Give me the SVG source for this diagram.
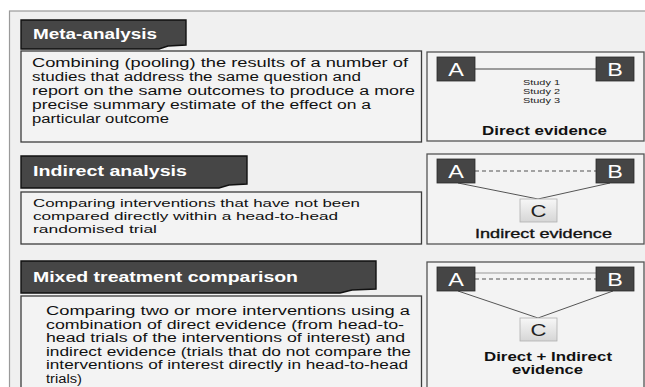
<svg xmlns="http://www.w3.org/2000/svg" width="645" height="387" viewBox="0 0 645 387">
<style>
.frame{fill:#f0f0f0;stroke:#9a9a9a;stroke-width:1.2}
.label{fill:#464646;stroke:#111;stroke-width:1.4}
.ltxt{font-family:"Liberation Sans",Arial,sans-serif;font-weight:bold;font-size:15px;fill:#ffffff}
.tbox{fill:#f3f3f3;stroke:#3c3c3c;stroke-width:1.3}
.btxt{font-family:"Liberation Sans",Arial,sans-serif;fill:#111}
.rbox{fill:#f3f3f3;stroke:#555;stroke-width:1.3}
.node{fill:#454545;stroke:#2a2a2a;stroke-width:0.8}
.ntxt{font-family:"Liberation Sans",Arial,sans-serif;font-size:18px;fill:#fff;text-anchor:middle}
.cnode{fill:url(#cg);stroke:#b0b0b0;stroke-width:0.8}
.ctxt{font-family:"Liberation Sans",Arial,sans-serif;font-size:17px;fill:#222;text-anchor:middle}
.cap{font-family:"Liberation Sans",Arial,sans-serif;font-weight:bold;font-size:12.5px;fill:#111}
.cap2{font-family:"Liberation Sans",Arial,sans-serif;font-size:13.5px;fill:#111;stroke:#111;stroke-width:0.35}
.study{font-family:"Liberation Sans",Arial,sans-serif;font-size:8px;fill:#222}
.solid{stroke:#444;stroke-width:1.1;fill:none}
.dash{stroke:#888;stroke-width:1.3;stroke-dasharray:4 3;fill:none}
.diag{stroke:#555;stroke-width:1;fill:none}
</style>
<defs>
<linearGradient id="cg" x1="0" y1="0" x2="0" y2="1">
<stop offset="0" stop-color="#f7f7f7"/>
<stop offset="1" stop-color="#d6d6d6"/>
</linearGradient>
</defs>
<rect x="0" y="0" width="645" height="387" fill="#ffffff"/>
<rect class="frame" x="9.5" y="11" width="645" height="390"/>

<g id="meta-label">
<path class="label" d="M21,20 H186 V45 L168,46 L159,49 H21 Z"/>
<text class="ltxt" x="33" y="39" textLength="124" lengthAdjust="spacingAndGlyphs">Meta-analysis</text>
</g>
<g id="meta-text">
<rect class="tbox" x="21" y="51" width="400.5" height="91"/>
<g class="btxt" font-size="12.5">
<text x="32" y="66.5" textLength="376" lengthAdjust="spacingAndGlyphs">Combining (pooling) the results of a number of</text>
<text x="32" y="80.5" textLength="329" lengthAdjust="spacingAndGlyphs">studies that address the same question and</text>
<text x="32" y="94.5" textLength="383" lengthAdjust="spacingAndGlyphs">report on the same outcomes to produce a more</text>
<text x="32" y="108.5" textLength="339" lengthAdjust="spacingAndGlyphs">precise summary estimate of the effect on a</text>
<text x="32" y="122.5" textLength="137" lengthAdjust="spacingAndGlyphs">particular outcome</text>
</g>
</g>
<g id="direct-box">
<rect class="rbox" x="427" y="52" width="217" height="89"/>
<text class="study" x="523" y="85" textLength="37" lengthAdjust="spacingAndGlyphs">Study 1</text>
<text class="study" x="523" y="94" textLength="37" lengthAdjust="spacingAndGlyphs">Study 2</text>
<text class="study" x="523" y="103" textLength="37" lengthAdjust="spacingAndGlyphs">Study 3</text>
<text class="cap" x="482" y="134.5" textLength="125" lengthAdjust="spacingAndGlyphs">Direct evidence</text>
</g>

<g id="indirect-label">
<path class="label" d="M21,156 H247 V184 L229,185 L219,188 H21 Z"/>
<text class="ltxt" x="33" y="176" textLength="154" lengthAdjust="spacingAndGlyphs">Indirect analysis</text>
</g>
<g id="indirect-text">
<rect class="tbox" x="21" y="192" width="400.5" height="52"/>
<g class="btxt" font-size="11.5">
<text x="33" y="207" textLength="327" lengthAdjust="spacingAndGlyphs">Comparing interventions that have not been</text>
<text x="33" y="219.9" textLength="305" lengthAdjust="spacingAndGlyphs">compared directly within a head-to-head</text>
<text x="33" y="232.8" textLength="124" lengthAdjust="spacingAndGlyphs">randomised trial</text>
</g>
</g>
<g id="indirect-box">
<rect class="rbox" x="427" y="154" width="217" height="90"/>
<text class="cap2" x="475" y="237.5" textLength="137" lengthAdjust="spacingAndGlyphs">Indirect evidence</text>
</g>

<g id="mixed-label">
<path class="label" d="M21,261 H376 V289 L352,290 L340,293 H21 Z"/>
<text class="ltxt" x="33" y="282" textLength="265" lengthAdjust="spacingAndGlyphs">Mixed treatment comparison</text>
</g>
<g id="mixed-text">
<rect class="tbox" x="21" y="296" width="400.5" height="100"/>
<g class="btxt" font-size="12">
<text x="46" y="315" textLength="364" lengthAdjust="spacingAndGlyphs">Comparing two or more interventions using a</text>
<text x="46" y="328.5" textLength="358" lengthAdjust="spacingAndGlyphs">combination of direct evidence (from head-to-</text>
<text x="46" y="342" textLength="359" lengthAdjust="spacingAndGlyphs">head trials of the interventions of interest) and</text>
<text x="46" y="355.5" textLength="365" lengthAdjust="spacingAndGlyphs">indirect evidence (trials that do not compare the</text>
<text x="46" y="369" textLength="362" lengthAdjust="spacingAndGlyphs">interventions of interest directly in head-to-head</text>
<text x="46" y="382.5" textLength="36" lengthAdjust="spacingAndGlyphs">trials)</text>
</g>
</g>
<g id="mixed-box">
<rect class="rbox" x="427" y="262" width="217" height="135"/>
<text class="cap" x="484" y="360.5" font-size="11.5" textLength="128" lengthAdjust="spacingAndGlyphs">Direct + Indirect</text>
<text class="cap" x="512" y="373.5" font-size="11.5" textLength="71" lengthAdjust="spacingAndGlyphs">evidence</text>
</g>

<g id="connectors">
<line class="solid" x1="475" y1="69" x2="596" y2="69"/>
<line class="dash" x1="475" y1="171" x2="596" y2="171"/>
<polyline class="diag" points="458,183 538,199 610,183"/>
<line stroke="#999" stroke-width="1.2" x1="475" y1="273" x2="596" y2="273"/>
<line class="dash" x1="475" y1="279" x2="596" y2="279"/>
<polyline class="diag" points="458,291 538,318 613,291"/>
</g>

<g id="node-A1"><rect class="node" x="437" y="57" width="38" height="24"/><text class="ntxt" transform="matrix(1.3 0 0 1 456 75.5)">A</text></g>
<g id="node-B1"><rect class="node" x="596" y="57" width="38" height="24"/><text class="ntxt" transform="matrix(1.3 0 0 1 615 75.5)">B</text></g>
<g id="node-A2"><rect class="node" x="437" y="159" width="38" height="24"/><text class="ntxt" transform="matrix(1.3 0 0 1 456 177.5)">A</text></g>
<g id="node-B2"><rect class="node" x="596" y="159" width="38" height="24"/><text class="ntxt" transform="matrix(1.3 0 0 1 615 177.5)">B</text></g>
<g id="node-C2"><rect class="cnode" x="520" y="199" width="37" height="23"/><text class="ctxt" transform="matrix(1.3 0 0 1 538.5 216.5)">C</text></g>
<g id="node-A3"><rect class="node" x="437" y="267" width="38" height="24"/><text class="ntxt" transform="matrix(1.3 0 0 1 456 285.5)">A</text></g>
<g id="node-B3"><rect class="node" x="596" y="267" width="38" height="24"/><text class="ntxt" transform="matrix(1.3 0 0 1 615 285.5)">B</text></g>
<g id="node-C3"><rect class="cnode" x="520" y="318" width="37" height="23"/><text class="ctxt" transform="matrix(1.3 0 0 1 538.5 335.5)">C</text></g>
</svg>
